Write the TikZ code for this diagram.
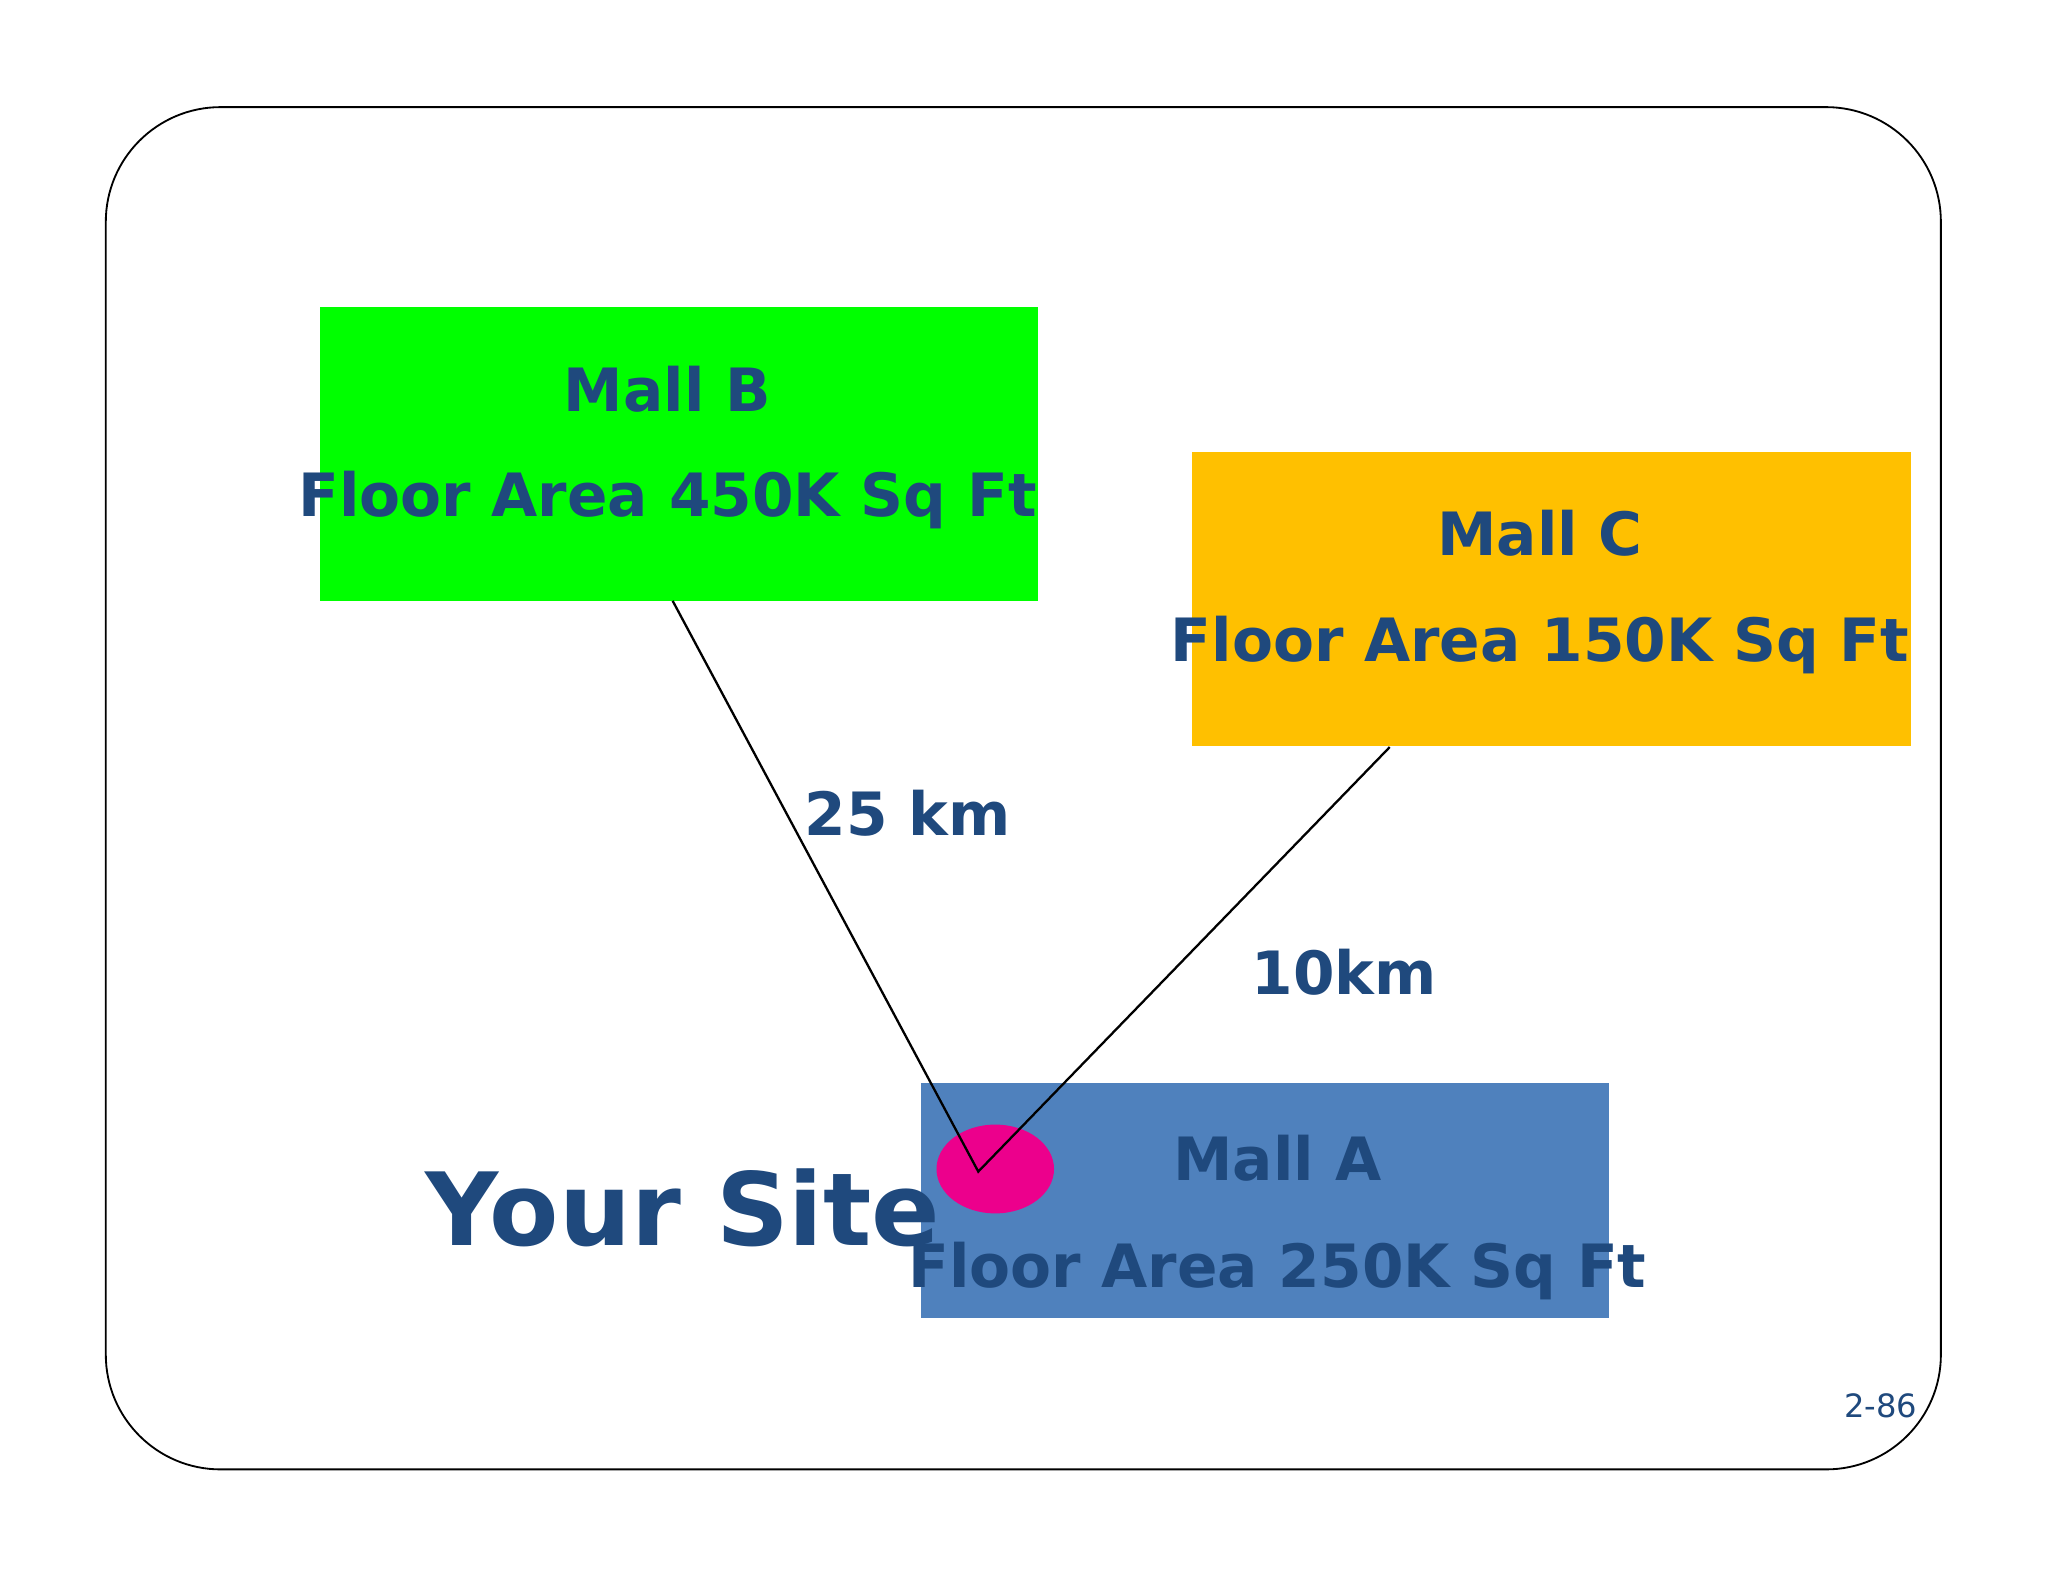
\documentclass[tikz,border=0pt]{standalone}
\usepackage{fontspec}
\setmainfont{DejaVu Sans}
\definecolor{txt}{HTML}{1F497D}
\definecolor{mallA}{HTML}{4F81BD}
\definecolor{mallC}{HTML}{FFC000}
\definecolor{mallB}{HTML}{00FF00}
\begin{document}
\begin{tikzpicture}[x=0.01cm,y=-0.01cm,
  lbl/.style={text=txt,font=\bfseries\fontsize{13}{15}\selectfont,inner sep=0pt},
  box/.style={inner sep=0pt,draw=none}]
\useasboundingbox (0,0) rectangle (1568,1211);
\fill[white] (0,0) rectangle (1568,1211);
\draw[rounded corners=50pt*0.5, black] (81,82) rectangle (1486,1125);
\fill[mallB] (245,235) rectangle (795,460);
\fill[mallC] (913,346) rectangle (1463,571);
\fill[mallA] (705,829) rectangle (1232,1009);
\coordinate (bB) at (515,460);
\coordinate (bC) at (1064,572);
\fill[magenta] (762,895) ellipse [x radius=45, y radius=34];
\coordinate (site) at (749,897);
\node[lbl] (mb) at (511,298) {Mall B};
\node[lbl] (mbf) at (511,383) {Floor Area 450K Sq Ft};
\node[lbl] (mc) at (1179,408) {Mall C};
\node[lbl] (mcf) at (1179,494) {Floor Area 150K Sq Ft};
\node[lbl] (ma) at (978,887) {Mall A};
\node[lbl] (maf) at (978,973) {Floor Area 250K Sq Ft};
\draw[black,line width=0.5pt] (bB) -- (site) -- (bC);
\node[lbl] (d1) at (695,623) {25 km};
\node[lbl] (d2) at (1029,744) {10km};
\node[lbl,font=\bfseries\fontsize{22}{26}\selectfont] (ys) at (523,925) {Your Site};
\node[lbl,font=\fontsize{7}{8}\selectfont] (pg) at (1440,1076) {2-86};
\end{tikzpicture}
\end{document}
